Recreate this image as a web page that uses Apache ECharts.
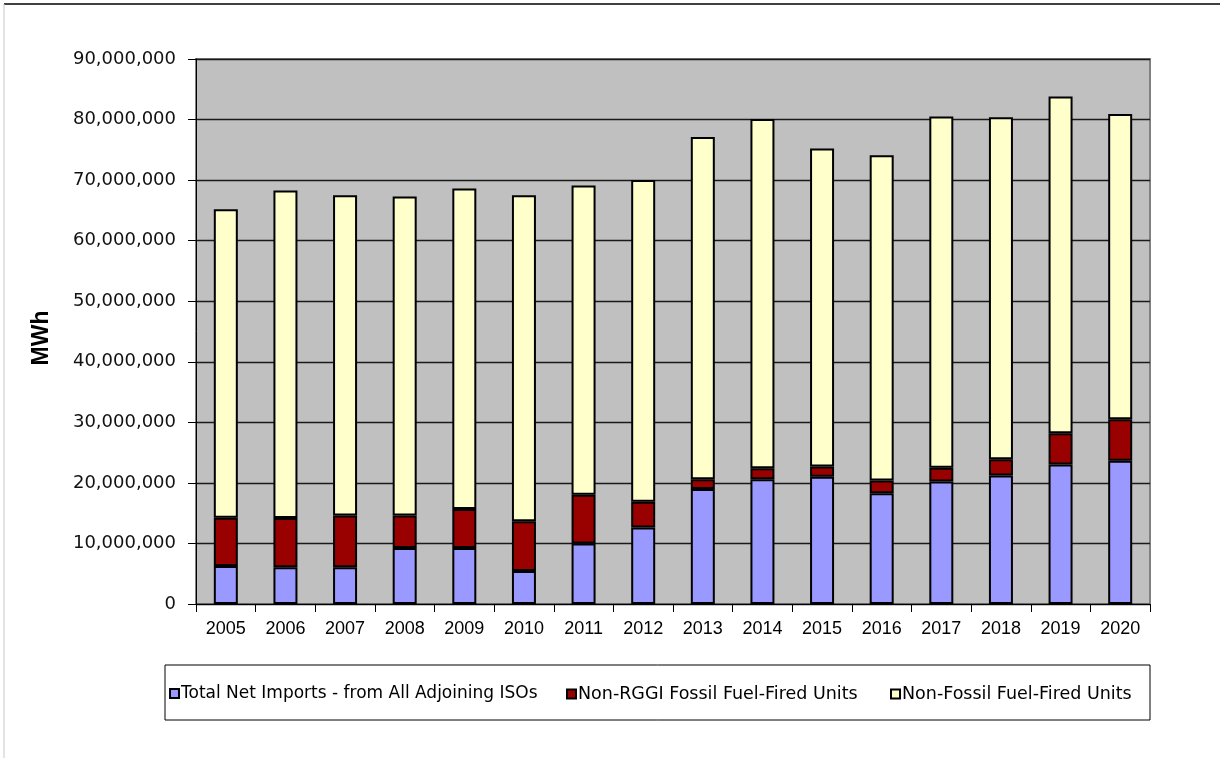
<!DOCTYPE html>
<html lang="en">

<head>
    <meta charset="utf-8" />
    <title></title>
    <style>
        body { margin: 0; background: #fff; }
    </style>
</head>

<body>
    <div id="main" style="width:1220px;height:758px;"></div>
    <script src="https://cdn.jsdelivr.net/npm/echarts@6/dist/echarts.min.js"></script>
    <script>
        // categories
        var years = ['2005', '2006', '2007', '2008', '2009', '2010', '2011', '2012',
            '2013', '2014', '2015', '2016', '2017', '2018', '2019', '2020'];

        // series values (MWh), stacked bottom to top
        var netImports = [6270000, 6050000, 6050000, 9250000, 9250000, 5450000, 10000000, 12650000,
            19000000, 20600000, 21000000, 18300000, 20250000, 21200000, 23050000, 23650000];
        var nonRggiFossil = [7980000, 8150000, 8550000, 5350000, 6450000, 8200000, 8050000, 4250000,
            1600000, 1800000, 1700000, 2100000, 2250000, 2700000, 5150000, 6850000];
        var nonFossil = [50950000, 54100000, 52900000, 52700000, 52900000, 53850000, 51050000, 53100000,
            56500000, 57700000, 52500000, 53700000, 58000000, 56500000, 55600000, 50400000];

        var seriesNames = ['Total Net Imports - from All Adjoining ISOs',
            'Non-RGGI Fossil Fuel-Fired Units', 'Non-Fossil Fuel-Fired Units'];

        var FONT = 'Liberation Sans, Arial, sans-serif';
        var WIDE = 'DejaVu Sans, sans-serif';

        var myChart = echarts.init(document.getElementById('main'));

        function bar(name, data, color) {
            return {
                name: name,
                type: 'bar',
                stack: 'total',
                data: data,
                barWidth: 24,
                itemStyle: { color: color, borderColor: '#000', borderWidth: 2 },
                emphasis: { disabled: true }
            };
        }

        // one legend per entry so each can sit where the original puts it
        function legendAt(name, left, size) {
            return {
                data: [name],
                left: left,
                top: 680,
                itemWidth: 9,
                itemHeight: 9,
                icon: 'rect',
                textStyle: { fontSize: size, color: '#000', fontFamily: WIDE, padding: [0, 0, 0, -3] },
                selectedMode: false
            };
        }

        var option = {
            animation: false,
            textStyle: { fontFamily: FONT },
            grid: {
                left: 196, right: 70, top: 59, height: 545,
                show: true,
                backgroundColor: '#C0C0C0',
                borderColor: '#808080',
                borderWidth: 2
            },
            legend: [
                legendAt(seriesNames[0], 164, 17),
                legendAt(seriesNames[1], 561, 17.5),
                legendAt(seriesNames[2], 885, 17.5)
            ],
            xAxis: {
                type: 'category',
                data: years,
                axisLine: { lineStyle: { color: '#000', width: 1 } },
                axisTick: { show: true, interval: 0, length: 8, lineStyle: { color: '#000' } },
                axisLabel: { fontSize: 18, color: '#000', margin: 16, interval: 0 }
            },
            yAxis: {
                type: 'value',
                min: 0,
                max: 90000000,
                interval: 10000000,
                axisLine: { show: true, lineStyle: { color: '#000', width: 1 } },
                axisTick: { show: true, length: 8, lineStyle: { color: '#000' } },
                axisLabel: {
                    fontSize: 18, color: '#111', margin: 20, fontFamily: WIDE,
                    formatter: function (v) { return v.toLocaleString('en-US'); }
                },
                splitLine: { lineStyle: { color: '#1a1a1a', width: 1.3 } }
            },
            graphic: [
                { type: 'line', shape: { x1: 4, y1: 4, x2: 1220, y2: 4 }, style: { stroke: '#000', lineWidth: 1.5 } },
                { type: 'line', shape: { x1: 4, y1: 4, x2: 4, y2: 758 }, style: { stroke: '#c8c8c8', lineWidth: 1 } },
                {
                    type: 'rect', shape: { x: 165, y: 665, width: 985, height: 55 },
                    style: { fill: 'none', stroke: '#000', lineWidth: 1 }, z: -1
                },
                {
                    type: 'text', x: 42, y: 338, rotation: Math.PI / 2,
                    style: {
                        text: 'MWh', fontSize: 23, fontWeight: 'bold', fill: '#000',
                        fontFamily: FONT, align: 'center', verticalAlign: 'middle'
                    }
                }
            ],
            series: [
                bar(seriesNames[0], netImports, '#9999FF'),
                bar(seriesNames[1], nonRggiFossil, '#990000'),
                bar(seriesNames[2], nonFossil, '#FFFFCC')
            ]
        };
        myChart.setOption(option);
    </script>
</body>

</html>
